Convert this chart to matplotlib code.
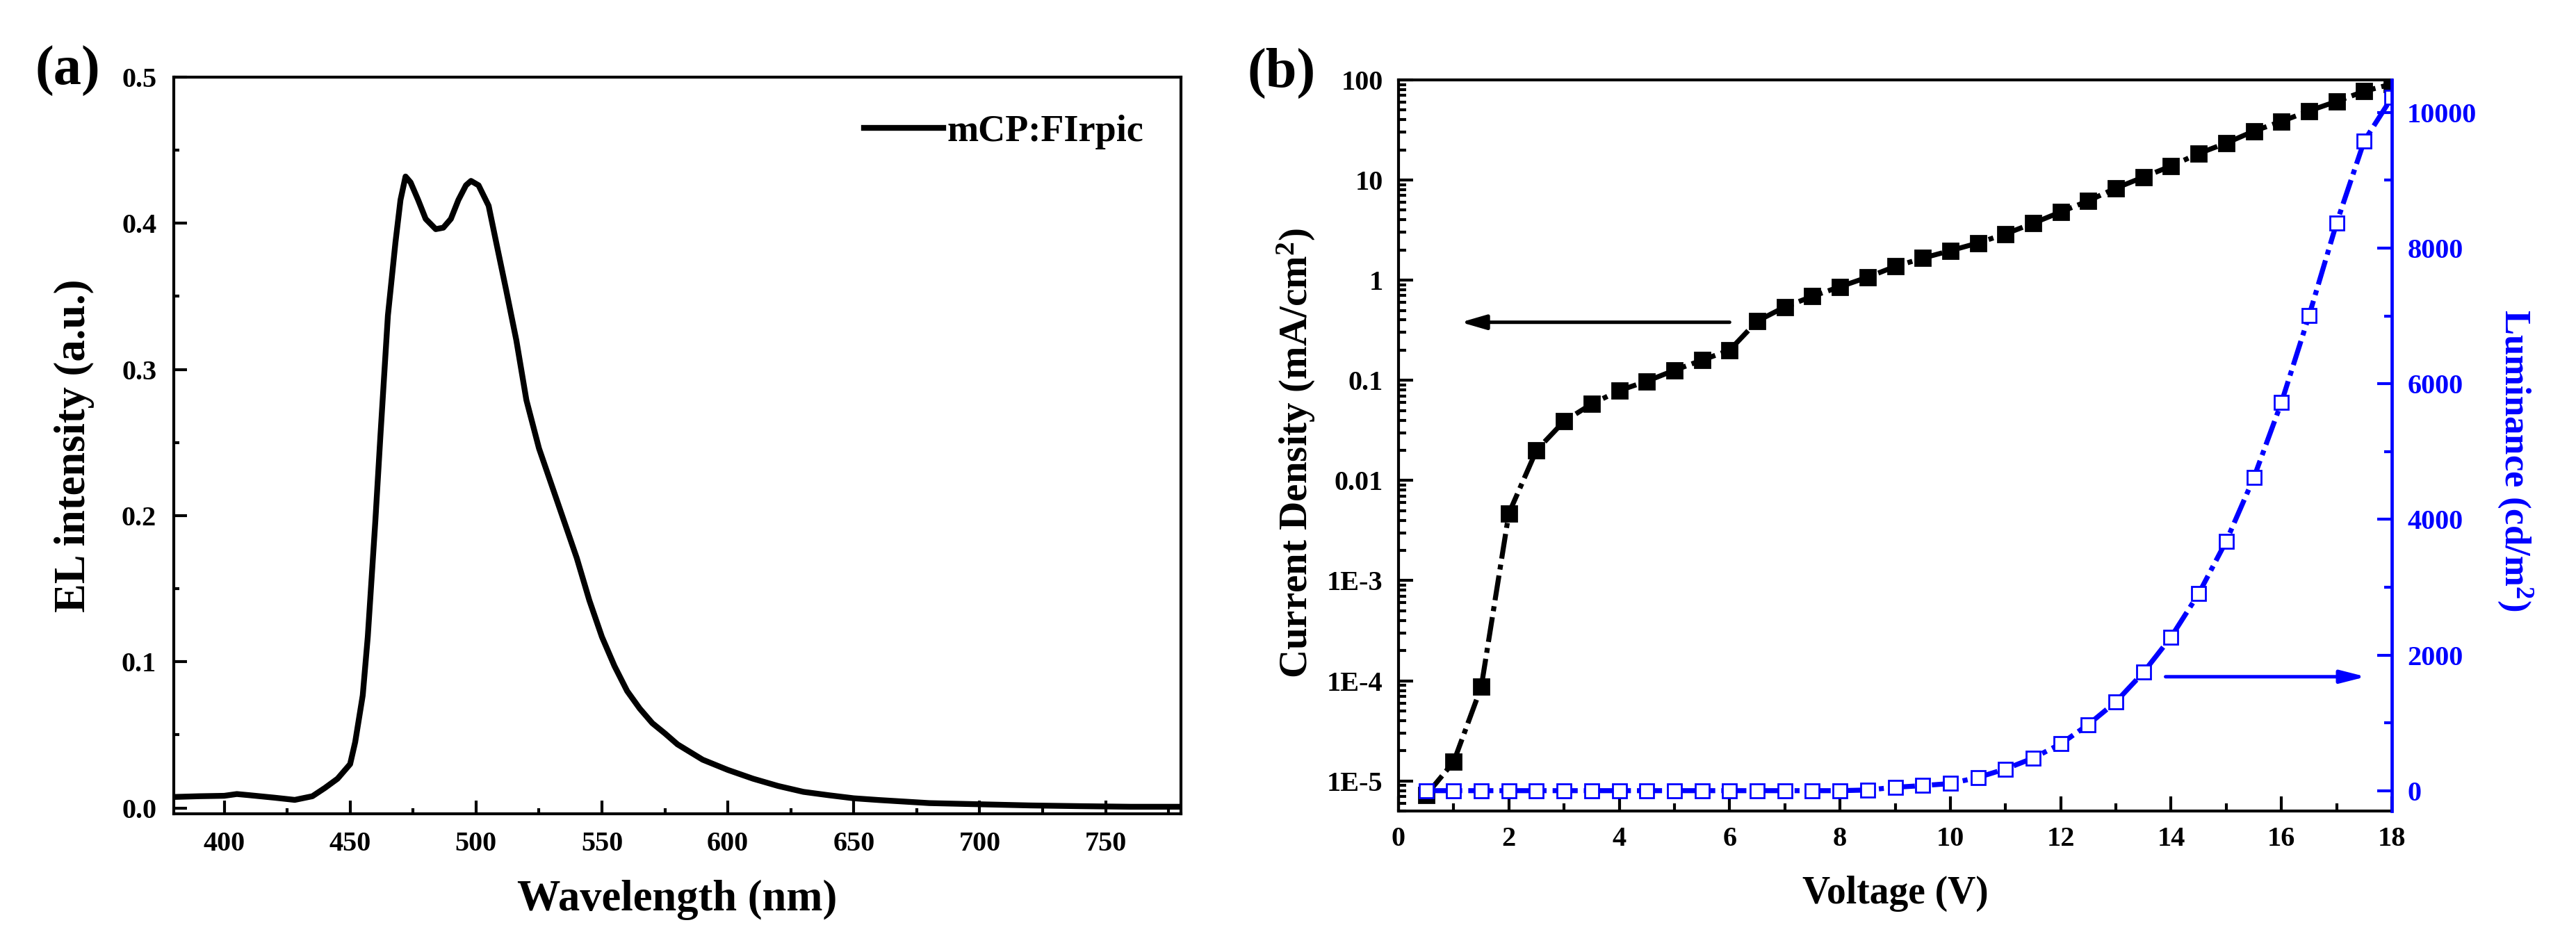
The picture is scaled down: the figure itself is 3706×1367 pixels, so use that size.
import numpy as np
import matplotlib
matplotlib.use("Agg")
import matplotlib.pyplot as plt
from matplotlib.ticker import MultipleLocator, FixedLocator, FixedFormatter, LogLocator, NullFormatter

plt.rcParams["font.family"] = ["Liberation Serif", "DejaVu Serif"]
plt.rcParams["font.weight"] = "bold"
plt.rcParams["axes.labelweight"] = "bold"
plt.rcParams["mathtext.fontset"] = "custom"
plt.rcParams["mathtext.rm"] = "Liberation Serif:bold"
plt.rcParams["mathtext.default"] = "rm"

# (a) EL spectrum
wavelength = [380, 390, 400, 405, 410, 420, 428, 435, 440, 445, 450, 452, 455,
              457, 460, 462, 465, 468, 470, 472, 474, 477, 480, 484, 487, 490,
              493, 496, 498, 501, 505, 508, 512, 516, 520, 525, 530, 535, 540,
              545, 550, 555, 560, 565, 570, 575, 580, 590, 600, 610, 620, 630,
              640, 650, 660, 680, 700, 720, 740, 760, 780]
el_intensity = [0.0075, 0.008, 0.0083, 0.0095, 0.0087, 0.007, 0.0055, 0.008,
                0.0137, 0.020, 0.030, 0.045, 0.077, 0.117, 0.196, 0.254, 0.337,
                0.387, 0.416, 0.432, 0.428, 0.416, 0.403, 0.396, 0.397, 0.403,
                0.416, 0.426, 0.429, 0.426, 0.412, 0.387, 0.354, 0.320, 0.279,
                0.246, 0.221, 0.196, 0.171, 0.142, 0.117, 0.097, 0.080, 0.068,
                0.058, 0.051, 0.0435, 0.033, 0.026, 0.020, 0.015, 0.011, 0.0087,
                0.0066, 0.0054, 0.0033, 0.0025, 0.0017, 0.0012, 0.0008, 0.0008]

# (b) J-V-L
voltage = [0.5, 1, 1.5, 2, 2.5, 3, 3.5, 4, 4.5, 5, 5.5, 6, 6.5, 7, 7.5, 8, 8.5,
           9, 9.5, 10, 10.5, 11, 11.5, 12, 12.5, 13, 13.5, 14, 14.5, 15, 15.5,
           16, 16.5, 17, 17.5, 18]
current_density = [7.2e-6, 1.55e-5, 8.7e-5, 4.7e-3, 0.020, 0.039, 0.058, 0.079,
                   0.098, 0.126, 0.159, 0.20, 0.39, 0.54, 0.69, 0.86, 1.07,
                   1.37, 1.66, 1.97, 2.35, 2.9, 3.7, 4.8, 6.2, 8.3, 10.7, 13.8,
                   18.4, 23.4, 30.8, 38.5, 49, 61, 77, 91]
luminance = [0, 0, 0, 0, 0, 0, 0, 0, 0, 0, 0, 0, 0, 0, 0, 0, 10, 50, 75, 105,
             195, 320, 480, 690, 975, 1310, 1745, 2265, 2905, 3680, 4615, 5725,
             7005, 8370, 9580, 10220]

j_ticks = [1e-5, 1e-4, 1e-3, 1e-2, 1e-1, 1, 10, 100]
j_labels = ["1E-5", "1E-4", "1E-3", "0.01", "0.1", "1", "10", "100"]

fig = plt.figure(figsize=(18.53, 6.835), dpi=200)
ax_a = fig.add_axes([0.0675, 0.1434, 0.391, 0.7754])
ax_b = fig.add_axes([0.5429, 0.1463, 0.3856, 0.7696])

spine_w = 1.5
tick_fs = 14.5
dashdot = (0, (5, 1.2, 1, 1.2))

# ---- panel (a)
ax_a.plot(wavelength, el_intensity, color="black", lw=3.0, label="mCP:FIrpic")
ax_a.set_xlim(380, 780)
ax_a.set_ylim(-0.004, 0.5)
ax_a.xaxis.set_major_locator(MultipleLocator(50))
ax_a.xaxis.set_minor_locator(MultipleLocator(25))
ax_a.yaxis.set_major_locator(MultipleLocator(0.1))
ax_a.yaxis.set_minor_locator(MultipleLocator(0.05))
ax_a.yaxis.set_major_formatter(matplotlib.ticker.FormatStrFormatter("%.1f"))
ax_a.tick_params(which="both", direction="in", width=spine_w, top=False, right=False,
                 labelsize=tick_fs, pad=9)
ax_a.tick_params(which="major", length=6.8)
ax_a.tick_params(which="minor", length=3)
for s in ax_a.spines.values():
    s.set_linewidth(spine_w)
ax_a.set_xlabel("Wavelength (nm)", fontsize=22.5, labelpad=12)
ax_a.set_ylabel("EL intensity (a.u.)", fontsize=22.5, labelpad=14)
ax_a.legend(loc="upper right", frameon=False, fontsize=19.5, handlelength=2.1,
            handletextpad=0.1, borderaxespad=0.6)
fig.text(97 / 3706, 1 - 102 / 1367, "(a)", fontsize=29, ha="center", va="center")

# ---- panel (b)
ax_b.plot(voltage, current_density, color="black", lw=2.6, linestyle=dashdot,
          marker="s", markersize=8, markerfacecolor="black", markeredgecolor="black")
ax_b.set_yscale("log")
ax_b.set_xlim(0, 18)
ax_b.set_ylim(5e-6, 100)
ax_b.xaxis.set_major_locator(MultipleLocator(2))
ax_b.xaxis.set_minor_locator(MultipleLocator(1))
ax_b.yaxis.set_major_locator(FixedLocator(j_ticks))
ax_b.yaxis.set_major_formatter(FixedFormatter(j_labels))
ax_b.yaxis.set_minor_locator(LogLocator(base=10, subs=np.arange(2, 10)))
ax_b.yaxis.set_minor_formatter(NullFormatter())
ax_b.tick_params(which="both", direction="in", width=spine_w, top=False, right=False,
                 labelsize=tick_fs, pad=8)
ax_b.tick_params(which="major", length=7.5)
ax_b.tick_params(which="minor", length=4)
for s in ax_b.spines.values():
    s.set_linewidth(spine_w)
ax_b.spines["right"].set_visible(False)
ax_b.set_xlabel("Voltage (V)", fontsize=20, labelpad=12)
ax_b.set_ylabel("Current Density (mA/cm$^{2}$)", fontsize=20.5, labelpad=5)
ax_b.yaxis.label.set_y(0.49)
ax_b.annotate("", xy=(1.13, 0.38), xytext=(6.0, 0.38),
              arrowprops=dict(arrowstyle="-|>,head_length=0.55,head_width=0.16",
                              color="black", lw=1.8, mutation_scale=20,
                              shrinkA=0, shrinkB=0))

ax2 = ax_b.twinx()
ax2.plot(voltage, luminance, color="blue", lw=2.6, linestyle=dashdot,
         marker="s", markersize=7.5, markerfacecolor="white",
         markeredgecolor="blue", markeredgewidth=1.0)
ax2.set_ylim(-300, 10480)
ax2.yaxis.set_major_locator(MultipleLocator(2000))
ax2.yaxis.set_minor_locator(MultipleLocator(1000))
ax2.tick_params(which="both", direction="in", width=spine_w, colors="blue",
                labelsize=tick_fs, pad=8)
ax2.tick_params(which="major", length=7.5)
ax2.tick_params(which="minor", length=4)
for name, s in ax2.spines.items():
    if name == "right":
        s.set_color("blue")
        s.set_linewidth(spine_w + 0.2)
    else:
        s.set_visible(False)
ax2.set_ylabel("Luminance (cd/m$^{2}$)", fontsize=19, color="blue",
               rotation=270, labelpad=30)
ax2.yaxis.label.set_y(0.48)
ax2.annotate("", xy=(17.53, 1680), xytext=(13.9, 1680),
             arrowprops=dict(arrowstyle="-|>,head_length=0.55,head_width=0.14",
                             color="blue", lw=1.8, mutation_scale=20,
                             shrinkA=0, shrinkB=0))
fig.text(1844 / 3706, 1 - 105 / 1367, "(b)", fontsize=29, ha="center", va="center")

fig.savefig("out.png", dpi=200)
